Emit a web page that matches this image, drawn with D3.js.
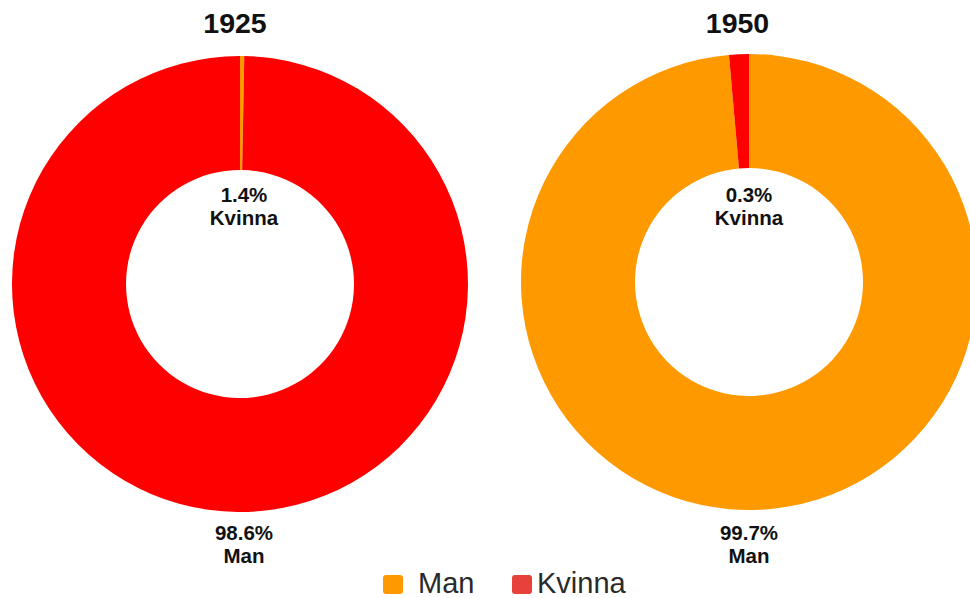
<!DOCTYPE html>
<html><head><meta charset="utf-8">
<script src="https://cdn.jsdelivr.net/npm/d3@7"></script>
<style>html,body{margin:0;padding:0;background:#fff;overflow:hidden}</style>
</head><body>
<svg id="chart" width="970" height="598"></svg>
<script>
// Data
const categories = ["Man", "Kvinna"];
const years = ["1925", "1950"];
const values1925 = [0.3, 99.7];   // slice sizes as drawn (Man, Kvinna)
const values1950 = [98.6, 1.4];
const topLabels = [["1.4%", "Kvinna"], ["0.3%", "Kvinna"]];
const bottomLabels = [["98.6%", "Man"], ["99.7%", "Man"]];
const sliceColors = ["#ff9900", "#ff0000"];
const legendColors = ["#ff9900", "#e8413a"];

const svg = d3.select("#chart");
const color = d3.scaleOrdinal().domain(categories).range(sliceColors);
const legendColor = d3.scaleOrdinal().domain(categories).range(legendColors);
const pie = d3.pie().sort(null).value(d => d.value);
const font = "Liberation Sans, Arial, sans-serif";

const charts = [
  {year: years[0], values: values1925, cx: 240, cy: 284, r: 228, lx: 244, tx: 235, top: topLabels[0], bottom: bottomLabels[0]},
  {year: years[1], values: values1950, cx: 749, cy: 282, r: 228, lx: 749, tx: 737.5, top: topLabels[1], bottom: bottomLabels[1]}
];

charts.forEach(c => {
  const data = categories.map((cat, i) => ({cat, value: c.values[i]}));
  const arc = d3.arc().innerRadius(c.r * 0.5).outerRadius(c.r);
  const g = svg.append("g").attr("transform", `translate(${c.cx},${c.cy})`);
  g.selectAll("path").data(pie(data)).join("path")
    .attr("d", arc).attr("fill", d => color(d.data.cat));
  svg.append("text").attr("x", c.tx).attr("y", 33)
    .attr("text-anchor", "middle").attr("font-family", font)
    .attr("font-weight", "bold").attr("font-size", 28.5).attr("fill", "#111").text(c.year);
  c.top.forEach((t, i) => {
    svg.append("text").attr("x", c.lx).attr("y", 202 + i * 23)
      .attr("text-anchor", "middle").attr("font-family", font)
      .attr("font-weight", "bold").attr("font-size", 20.5).attr("fill", "#111").text(t);
  });
  c.bottom.forEach((t, i) => {
    svg.append("text").attr("x", c.lx).attr("y", 540 + i * 23)
      .attr("text-anchor", "middle").attr("font-family", font)
      .attr("font-weight", "bold").attr("font-size", 20.5).attr("fill", "#111").text(t);
  });
});

// Legend
const legendX = [383, 512];
const lg = svg.append("g");
categories.forEach((cat, i) => {
  lg.append("rect").attr("x", legendX[i]).attr("y", 575).attr("width", 20).attr("height", 19)
    .attr("rx", 3).attr("fill", legendColor(cat));
  lg.append("text").attr("x", legendX[i] + (i === 0 ? 35 : 25)).attr("y", 593)
    .attr("font-family", font).attr("font-size", 29)
    .attr("fill", "#2a2a2a").text(cat);
});
</script>
</body></html>
